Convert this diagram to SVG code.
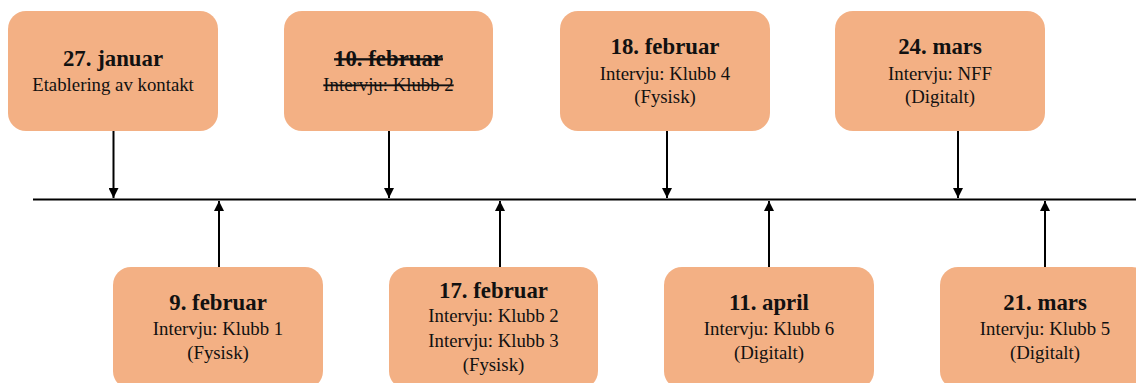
<svg xmlns="http://www.w3.org/2000/svg" width="1136" height="383" viewBox="0 0 1136 383">
  <style>
    .box { fill: #F3B084; }
    text { font-family: 'Liberation Serif', Tinos, 'DejaVu Serif', serif; fill: #111; text-anchor: middle; }
    .title { font-size: 22.8px; font-weight: bold; }
    .body { font-size: 18.8px; }
    .strike { text-decoration: line-through; }
    .line { stroke: #000; stroke-width: 2; fill: none; }
    .axis { stroke: #000; stroke-width: 2.2; fill: none; }
  </style>
  <defs>
    <marker id="arrow" viewBox="0 0 10 10" refX="10" refY="5" markerWidth="10" markerHeight="10" markerUnits="userSpaceOnUse" orient="auto">
      <path d="M0,0 L10,5 L0,10 Z" fill="#000"/>
    </marker>
  </defs>

  <!-- timeline and connectors -->
  <g id="connectors">
    <line class="axis" x1="33" y1="199.5" x2="1136" y2="199.5"/>
    <line class="line" x1="113.5" y1="131" x2="113.5" y2="198" marker-end="url(#arrow)"/>
    <line class="line" x1="389" y1="131" x2="389" y2="198" marker-end="url(#arrow)"/>
    <line class="line" x1="667" y1="131" x2="667" y2="198" marker-end="url(#arrow)"/>
    <line class="line" x1="958" y1="131" x2="958" y2="198" marker-end="url(#arrow)"/>
    <line class="line" x1="219" y1="267" x2="219" y2="201" marker-end="url(#arrow)"/>
    <line class="line" x1="500" y1="267" x2="500" y2="201" marker-end="url(#arrow)"/>
    <line class="line" x1="769" y1="267" x2="769" y2="201" marker-end="url(#arrow)"/>
    <line class="line" x1="1045" y1="267" x2="1045" y2="201" marker-end="url(#arrow)"/>
  </g>

  <!-- events above the line -->
  <g id="jan27">
    <rect class="box" x="8" y="11" width="210" height="120" rx="18"/>
    <text class="title" x="113" y="66">27. januar</text>
    <text class="body" x="113" y="91">Etablering av kontakt</text>
  </g>
  <g id="feb10">
    <rect class="box" x="284" y="11" width="209" height="120" rx="18"/>
    <text class="title strike" x="388.5" y="66">10. februar</text>
    <text class="body strike" x="388.5" y="91">Intervju: Klubb 2</text>
  </g>
  <g id="feb18">
    <rect class="box" x="560" y="11" width="210" height="120" rx="18"/>
    <text class="title" x="665" y="54">18. februar</text>
    <text class="body" x="665" y="79.5">Intervju: Klubb 4</text>
    <text class="body" x="665" y="103">(Fysisk)</text>
  </g>
  <g id="mar24">
    <rect class="box" x="835" y="11" width="210" height="120" rx="18"/>
    <text class="title" x="940" y="54">24. mars</text>
    <text class="body" x="940" y="79.5">Intervju: NFF</text>
    <text class="body" x="940" y="103">(Digitalt)</text>
  </g>

  <!-- events below the line -->
  <g id="feb9">
    <rect class="box" x="113" y="267" width="210" height="122" rx="18"/>
    <text class="title" x="218" y="310">9. februar</text>
    <text class="body" x="218" y="335">Intervju: Klubb 1</text>
    <text class="body" x="218" y="358.5">(Fysisk)</text>
  </g>
  <g id="feb17">
    <rect class="box" x="389" y="267" width="209" height="122" rx="18"/>
    <text class="title" x="493.5" y="297.5">17. februar</text>
    <text class="body" x="493.5" y="322">Intervju: Klubb 2</text>
    <text class="body" x="493.5" y="346.5">Intervju: Klubb 3</text>
    <text class="body" x="493.5" y="371">(Fysisk)</text>
  </g>
  <g id="apr11">
    <rect class="box" x="664" y="267" width="210" height="122" rx="18"/>
    <text class="title" x="769" y="310">11. april</text>
    <text class="body" x="769" y="335">Intervju: Klubb 6</text>
    <text class="body" x="769" y="358.5">(Digitalt)</text>
  </g>
  <g id="mar21">
    <rect class="box" x="940" y="267" width="210" height="122" rx="18"/>
    <text class="title" x="1045" y="310">21. mars</text>
    <text class="body" x="1045" y="335">Intervju: Klubb 5</text>
    <text class="body" x="1045" y="358.5">(Digitalt)</text>
  </g>
</svg>
